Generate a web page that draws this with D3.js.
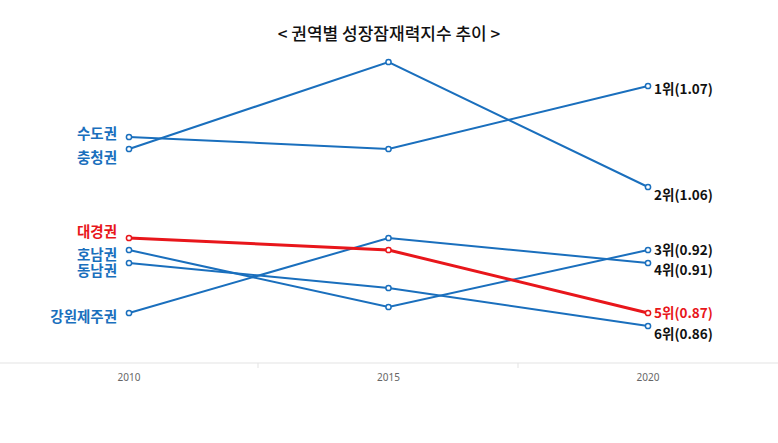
<!DOCTYPE html><html><head><meta charset="utf-8"><script src="https://cdn.jsdelivr.net/npm/d3@7"></script>
<style>body{margin:0;background:#fff}</style></head><body><svg id="c" width="778" height="443"></svg>
<script>
const years=["2010","2015","2020"];
const regions=["수도권","충청권","대경권","호남권","동남권","강원제주권"];
// plotted position score (chart is ordinal-style)
const sudo=[2.26,2.14,2.77];
const chungcheong=[2.14,3.01,1.76];
const daegyeong=[1.25,1.13,0.50];
const honam=[1.13,0.56,1.13];
const dongnam=[1.00,0.75,0.37];
const gangwon=[0.50,1.25,1.00];
const rankLabels=["1위(1.07)","2위(1.06)","3위(0.92)","4위(0.91)","5위(0.87)","6위(0.86)"];
const series=[sudo,chungcheong,daegyeong,honam,dongnam,gangwon];
const leftOffsets=[2,14,-1,10,13,9];
const rightOffsets=[8,13,5,12,5,13];
const svg=d3.select("#c");
const x=d3.scalePoint().domain(years).range([129,648]);
const y=d3.scaleLinear().domain([0,3.01]).range([363,62]);
const blue="#1a6fbd",red="#e8161b";
svg.append("text").attr("x",389).attr("y",40).attr("text-anchor","middle").attr("font-family","Noto Sans CJK KR").attr("font-size",17).attr("font-weight",500).attr("fill","#111").text("< 권역별 성장잠재력지수 추이 >");
svg.append("line").attr("x1",0).attr("x2",778).attr("y1",363).attr("y2",363).attr("stroke","#e3e3e3");
[258,518].forEach(t=>svg.append("line").attr("x1",t).attr("x2",t).attr("y1",363).attr("y2",368).attr("stroke","#e3e3e3"));
years.forEach(yr=>svg.append("text").attr("x",x(yr)).attr("y",381).attr("text-anchor","middle").attr("font-family","Noto Sans").attr("font-size",10).attr("fill","#666").text(yr));
const line=d3.line().x((d,i)=>x(years[i])).y(d=>y(d));
const order=[0,1,3,4,5,2];
order.forEach(i=>{const s=series[i];const c=i===2?red:blue;
 svg.append("path").attr("d",line(s)).attr("fill","none").attr("stroke",c).attr("stroke-width",i===2?3:2);
 s.forEach((v,j)=>svg.append("circle").attr("cx",x(years[j])).attr("cy",y(v)).attr("r",2.6).attr("fill","#fff").attr("stroke",c).attr("stroke-width",1.5));
 svg.append("text").attr("x",117).attr("y",y(s[0])+leftOffsets[i]).attr("text-anchor","end").attr("font-family","Noto Sans CJK KR").attr("font-weight",700).attr("font-size",14.5).attr("fill",c).text(regions[i]);
});
const ranked=series.map((s,i)=>({i,v:s[2]})).sort((a,b)=>b.v-a.v);
ranked.forEach((r,k)=>{
 svg.append("text").attr("x",654).attr("y",y(r.v)+rightOffsets[k]).attr("font-family","Noto Sans CJK KR").attr("font-weight",700).attr("font-size",13.5).attr("fill",r.i===2?red:"#111").text(rankLabels[k]);
});
</script></body></html>
